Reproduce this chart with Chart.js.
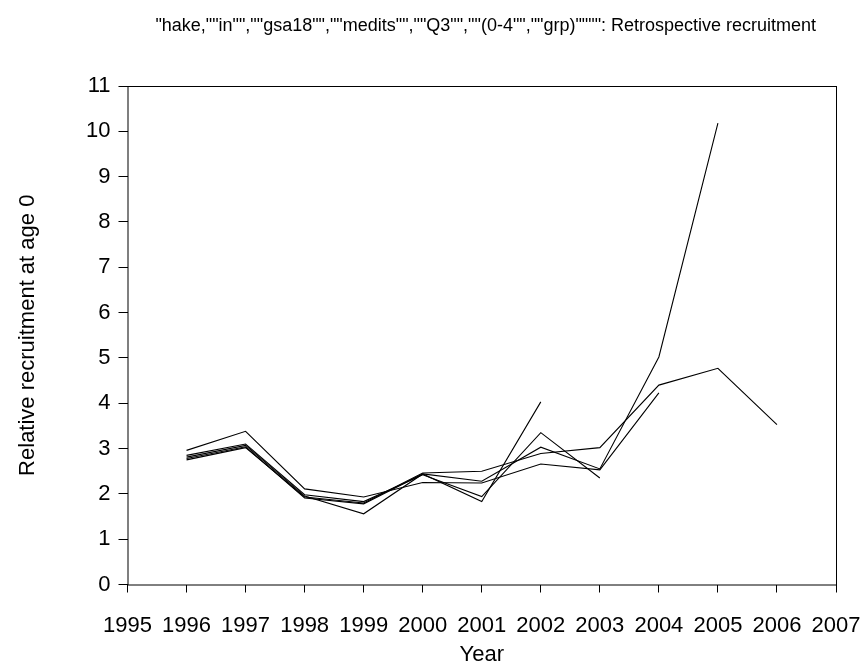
<!DOCTYPE html>
<html>
<head>
<meta charset="utf-8">
<title>Retrospective recruitment</title>
<script src="https://cdn.jsdelivr.net/npm/chart.js@4/dist/chart.umd.min.js"></script>
<style>
  body { margin: 0; background: #fff; }
  #wrap { width: 861px; height: 668px; }
</style>
</head>
<body>
<div id="wrap"><canvas id="chart" width="861" height="668"></canvas></div>
<script>
// Years for each retrospective run (shorter runs drop the final years)
const years = [1996, 1997, 1998, 1999, 2000, 2001, 2002, 2003, 2004, 2005, 2006];

// Relative recruitment at age 0, one array per retrospective peel
const run2006 = [2.75, 3.02, 1.93, 1.80, 2.46, 2.50, 2.89, 3.02, 4.40, 4.77, 3.53];
const run2005 = [2.78, 3.04, 1.91, 1.78, 2.44, 2.28, 3.03, 2.55, 5.02, 10.18];
const run2004 = [2.96, 3.38, 2.11, 1.93, 2.25, 2.24, 2.66, 2.53, 4.23];
const run2003 = [2.85, 3.10, 1.98, 1.83, 2.42, 1.94, 3.35, 2.35];
const run2002 = [2.81, 3.07, 1.95, 1.56, 2.44, 1.83, 4.03];

const xTicks = [1995, 1996, 1997, 1998, 1999, 2000, 2001, 2002, 2003, 2004, 2005, 2006, 2007];
const yTicks = [0, 1, 2, 3, 4, 5, 6, 7, 8, 9, 10, 11];

const titleText = '"hake,""in"",""gsa18"",""medits"",""Q3"",""(0-4"",""grp)"""": Retrospective recruitment';

const FONT = "'Liberation Sans', Arial, sans-serif";

function toPoints(vals) {
    return vals.map((v, i) => ({ x: years[i], y: v }));
}

const runs = [run2006, run2005, run2004, run2003, run2002];

// box round the plot area + title centred on the plot
const framePlugin = {
    id: 'frame',
    afterDraw(chart) {
        const { ctx, chartArea: a } = chart;
        ctx.save();
        ctx.strokeStyle = '#000';
        ctx.lineWidth = 1;
        ctx.strokeRect(a.left + 0.5, a.top + 0.5, a.right - a.left, a.bottom - a.top);
        ctx.fillStyle = '#000';
        ctx.font = '18px ' + FONT;
        ctx.textAlign = 'center';
        ctx.textBaseline = 'alphabetic';
        ctx.fillText(titleText, (a.left + a.right) / 2 + 4, 31);
        ctx.restore();
    }
};

new Chart(document.getElementById('chart'), {
    type: 'line',
    data: {
        datasets: runs.map((r, i) => ({
            label: 'run ' + (2006 - i),
            data: toPoints(r),
            borderColor: '#000',
            borderWidth: 1.1,
            pointRadius: 0,
            fill: false,
            tension: 0
        }))
    },
    options: {
        responsive: false,
        animation: false,
        layout: { padding: { top: 86, right: 25, left: 0, bottom: 0 } },
        plugins: {
            legend: { display: false },
            tooltip: { enabled: false },
            title: { display: false }
        },
        scales: {
            x: {
                type: 'linear',
                min: 1995,
                max: 2007,
                afterBuildTicks(scale) {
                    scale.ticks = xTicks.map(v => ({ value: v }));
                },
                afterFit(scale) {
                    scale.height = 83.5;
                    scale.paddingLeft = 0;
                    scale.paddingRight = 0;
                },
                border: { display: false },
                grid: {
                    drawOnChartArea: false,
                    drawTicks: true,
                    tickLength: 8,
                    color: '#000'
                },
                ticks: {
                    color: '#000',
                    font: { family: FONT, size: 22 },
                    padding: 20,
                    maxRotation: 0,
                    autoSkip: false,
                    callback: v => String(v)
                },
                title: {
                    display: true,
                    text: 'Year',
                    color: '#000',
                    font: { family: FONT, size: 22 },
                    padding: { top: 0, bottom: 0 }
                }
            },
            y: {
                min: 0,
                max: 11,
                afterBuildTicks(scale) {
                    scale.ticks = yTicks.map(v => ({ value: v }));
                },
                afterFit(scale) {
                    scale.width = 127.5;
                    scale.paddingTop = 0;
                    scale.paddingBottom = 0;
                },
                border: { display: false },
                grid: {
                    drawOnChartArea: false,
                    drawTicks: true,
                    tickLength: 9,
                    color: '#000'
                },
                ticks: {
                    color: '#000',
                    font: { family: FONT, size: 22 },
                    padding: 8,
                    autoSkip: false
                },
                title: {
                    display: true,
                    text: 'Relative recruitment at age 0',
                    color: '#000',
                    font: { family: FONT, size: 22 },
                    padding: { top: 15, bottom: 0 }
                }
            }
        }
    },
    plugins: [framePlugin]
});
</script>
</body>
</html>
